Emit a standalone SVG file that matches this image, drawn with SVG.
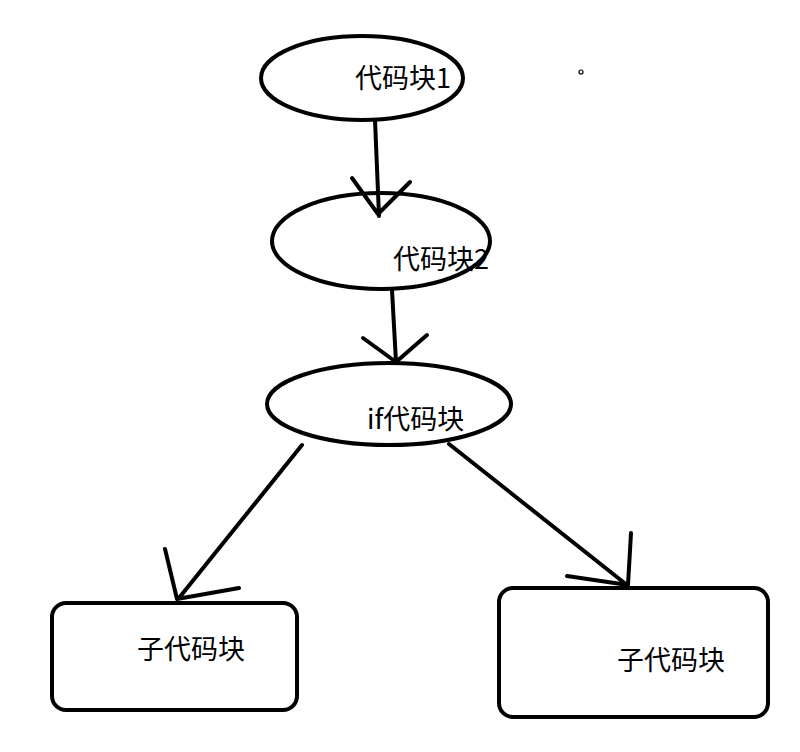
<svg xmlns="http://www.w3.org/2000/svg" width="800" height="752" viewBox="0 0 800 752">
<style>
.shape{fill:none;stroke:#000;stroke-width:4}
.ln{fill:none;stroke:#000;stroke-width:4;stroke-linecap:round;stroke-linejoin:round}
.t{font-family:"Noto Sans CJK SC","Liberation Sans",sans-serif;font-size:27px;fill:#000}
</style>
<rect width="800" height="752" fill="#fff"/>
<g id="node1"><ellipse class="shape" cx="362" cy="78" rx="101" ry="42"/><text class="t" x="355" y="88">代码块1</text></g>
<g id="node2"><ellipse class="shape" cx="381" cy="241" rx="109" ry="48"/><text class="t" x="393" y="269">代码块2</text></g>
<g id="node3"><ellipse class="shape" cx="389" cy="404" rx="122" ry="41"/><text class="t" x="367" y="429">if代码块</text></g>
<g id="node4"><rect class="shape" x="52" y="603" width="245" height="107" rx="14"/><text class="t" x="137" y="659">子代码块</text></g>
<g id="node5"><rect class="shape" x="499" y="588" width="269" height="129" rx="14"/><text class="t" x="617" y="670">子代码块</text></g>
<circle cx="581" cy="72" r="2" fill="none" stroke="#000" stroke-width="1.2"/>
<g id="connectors">
<path class="ln" d="M375 120 L379 216 M352 178 L378 214 L410 182"/>
<path class="ln" d="M392 290 L396 362 M363 338 L396 362 L427 335"/>
<path class="ln" d="M302 445 L179 598 M165 549 L177 599 L239 588"/>
<path class="ln" d="M449 444 L627 585 M631 533 L628 585 L567 576"/>
</g>
</svg>
